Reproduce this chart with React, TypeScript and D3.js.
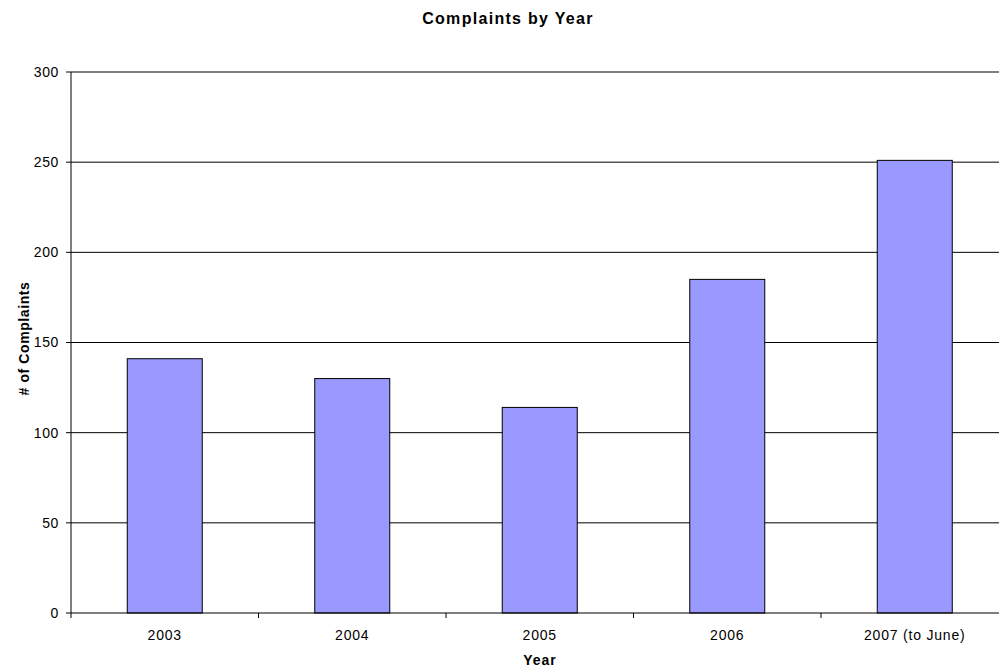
import React from "react";
import * as d3 from "d3";

const categories: string[] = ["2003", "2004", "2005", "2006", "2007 (to June)"];
const values: number[] = [141, 130, 114, 185, 251];
const yTicks: number[] = [0, 50, 100, 150, 200, 250, 300];

export default function App() {
  const W = 999, H = 668;
  const left = 71, top = 72, bottom = 613, right = 1008.5;
  const x = d3.scaleBand<string>().domain(categories).range([left, right]).paddingInner(0.6).paddingOuter(0.3);
  const xb = d3.scaleBand<string>().domain(categories).range([left, right]);
  const y = d3.scaleLinear().domain([0, 300]).range([bottom, top]);
  const font = "Arial, 'Liberation Sans', sans-serif";
  return (
    <svg width={W} height={H} style={{ position: "absolute", left: 0, top: 0, background: "#fff" }} fontFamily={font}>
      <text x={508} y={24} textAnchor="middle" fontWeight="bold" fontSize={16} letterSpacing={1.3}>Complaints by Year</text>
      {yTicks.map((t) => (
        <g key={t}>
          {t > 0 && <line x1={left} x2={W} y1={y(t)} y2={y(t)} stroke="#000" strokeWidth={1} />}
          <line x1={left - 5} x2={left} y1={y(t)} y2={y(t)} stroke="#000" />
          <text x={59} y={y(t)} dy="0.35em" textAnchor="end" fontSize={14} letterSpacing={0.6}>{t}</text>
        </g>
      ))}
      {categories.map((c, i) => (
        <rect key={c} x={x(c)} y={y(values[i])} width={x.bandwidth()} height={bottom - y(values[i])} fill="#9999FF" stroke="#000" strokeWidth={1} />
      ))}
      <line x1={left} x2={left} y1={top} y2={bottom} stroke="#000" />
      <line x1={left} x2={W} y1={bottom} y2={bottom} stroke="#000" />
      {categories.map((c) => (
        <line key={"t" + c} x1={xb(c)} x2={xb(c)} y1={bottom} y2={bottom + 5} stroke="#000" />
      ))}
      {categories.map((c) => (
        <text key={"l" + c} x={(xb(c) as number) + xb.bandwidth() / 2} y={640} textAnchor="middle" fontSize={14} letterSpacing={0.8}>{c}</text>
      ))}
      <text x={540} y={665} textAnchor="middle" fontWeight="bold" fontSize={14} letterSpacing={1}>Year</text>
      <text transform={`translate(29,338.5) rotate(-90)`} textAnchor="middle" fontWeight="bold" fontSize={14} letterSpacing={0.6}># of Complaints</text>
    </svg>
  );
}
